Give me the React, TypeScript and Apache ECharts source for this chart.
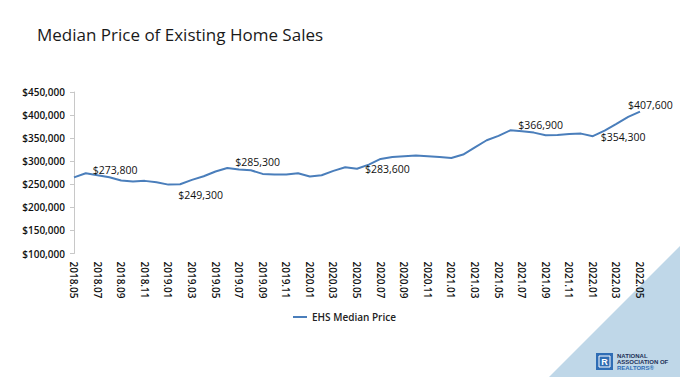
import React, { useEffect, useRef } from "react";
import * as echarts from "echarts";

const months: string[] = [
  "2018.05", "2018.06", "2018.07", "2018.08", "2018.09", "2018.10", "2018.11", "2018.12",
  "2019.01", "2019.02", "2019.03", "2019.04", "2019.05", "2019.06", "2019.07", "2019.08",
  "2019.09", "2019.10", "2019.11", "2019.12", "2020.01", "2020.02", "2020.03", "2020.04",
  "2020.05", "2020.06", "2020.07", "2020.08", "2020.09", "2020.10", "2020.11", "2020.12",
  "2021.01", "2021.02", "2021.03", "2021.04", "2021.05", "2021.06", "2021.07", "2021.08",
  "2021.09", "2021.10", "2021.11", "2021.12", "2022.01", "2022.02", "2022.03", "2022.04",
  "2022.05",
];

const medianPrice: number[] = [
  265000, 273800, 269500, 265300, 258100, 256000, 257400, 254500,
  249300, 250100, 259500, 267500, 277600, 285300, 281900, 280400,
  272500, 271000, 271000, 274000, 266700, 269600, 279000, 286900,
  283600, 292700, 305000, 309300, 310800, 312200, 310800, 309300,
  307100, 314400, 330200, 345400, 354800, 366900, 364900, 362000,
  356200, 356900, 359100, 359800, 354300, 366300, 380700, 395900,
  407600,
];

const labeledIndices: number[] = [1, 8, 13, 24, 37, 44, 48];

const yTicks = { min: 100000, max: 450000, interval: 50000 };

const labelPlacement: Record<number, { distance: number; offset: [number, number] }> = {
  1: { distance: 7, offset: [0, -3] },
  8: { distance: 10, offset: [0, 10] },
  13: { distance: 8, offset: [0, -6] },
  24: { distance: 8, offset: [0, 0] },
  37: { distance: 8, offset: [0, -5] },
  44: { distance: 8, offset: [0, 1] },
  48: { distance: 0, offset: [-12, -7] },
};

const money = (v: number) => "$" + v.toLocaleString("en-US");

export default function App() {
  const ref = useRef<HTMLDivElement>(null);

  useEffect(() => {
    if (!ref.current) return;
    const chart = echarts.init(ref.current, null, { renderer: "svg" });
    const font = "'Open Sans', sans-serif";

    const data = medianPrice.map((v, i) => {
      if (!labeledIndices.includes(i)) return v;
      const p = labelPlacement[i];
      return {
        value: v,
        label: {
          show: true,
          position: "right",
          distance: p.distance,
          offset: p.offset,
          formatter: () => money(v),
          fontFamily: font,
          fontSize: 10.5,
          color: "#111",
        },
      };
    });

    chart.setOption({
      animation: false,
      backgroundColor: "#ffffff",
      title: {
        text: "Median Price of Existing Home Sales",
        left: 32,
        top: 21,
        textStyle: { fontFamily: font, fontSize: 17, fontWeight: "normal", color: "#1a1a1a" },
      },
      grid: { left: 74, right: 40, top: 92, bottom: 123.5 },
      legend: {
        data: ["EHS Median Price"],
        left: 288,
        top: 307,
        icon: "rect",
        itemWidth: 14,
        itemHeight: 2,
        textStyle: { fontFamily: font, fontSize: 10, fontWeight: 600, color: "#222" },
      },
      xAxis: {
        type: "category",
        data: months,
        boundaryGap: false,
        axisLine: { show: false },
        axisTick: { show: false },
        axisLabel: {
          interval: 1,
          rotate: -90,
          margin: 8,
          fontFamily: font,
          fontSize: 10,
          fontWeight: 600,
          color: "#111",
        },
      },
      yAxis: {
        type: "value",
        min: yTicks.min,
        max: yTicks.max,
        interval: yTicks.interval,
        splitLine: { show: false },
        axisLine: { show: true, lineStyle: { color: "#c8c8c8", width: 1 } },
        axisTick: { show: true, length: 4, lineStyle: { color: "#c8c8c8" } },
        axisLabel: {
          formatter: (v: number) => money(v),
          margin: 9,
          fontFamily: font,
          fontSize: 10,
          fontWeight: 600,
          color: "#111",
        },
      },
      series: [
        {
          name: "EHS Median Price",
          type: "line",
          data,
          symbol: "circle",
          symbolSize: 0.01,
          showSymbol: true,
          lineStyle: { color: "#4a7ebb", width: 2 },
          itemStyle: { color: "#4a7ebb" },
          z: 3,
        },
      ],
      graphic: [
        {
          type: "polygon",
          z: -10,
          silent: true,
          shape: { points: [[680, 246], [680, 377], [549, 377]] },
          style: { fill: "#bfd7e8" },
        },
        {
          type: "rect",
          z: 10,
          shape: { x: 596, y: 353, width: 17, height: 17 },
          style: { fill: "#2f6db5" },
        },
        {
          type: "rect",
          z: 11,
          shape: { x: 599, y: 356, width: 11, height: 11 },
          style: { fill: "none", stroke: "#ffffff", lineWidth: 1 },
        },
        {
          type: "text",
          z: 12,
          x: 604.5,
          y: 361.5,
          style: {
            text: "R",
            fill: "#ffffff",
            font: "bold 9px 'Liberation Sans', sans-serif",
            align: "center",
            verticalAlign: "middle",
          },
        },
        {
          type: "text",
          z: 12,
          x: 617,
          y: 355.5,
          style: {
            text: "NATIONAL",
            fill: "#1d2f57",
            font: "bold 6px 'Liberation Sans', sans-serif",
            verticalAlign: "middle",
          },
        },
        {
          type: "text",
          z: 12,
          x: 617,
          y: 361.5,
          style: {
            text: "ASSOCIATION OF",
            fill: "#1d2f57",
            font: "bold 6px 'Liberation Sans', sans-serif",
            verticalAlign: "middle",
          },
        },
        {
          type: "text",
          z: 12,
          x: 617,
          y: 367.5,
          style: {
            text: "REALTORS®",
            fill: "#2f6db5",
            font: "bold 6px 'Liberation Sans', sans-serif",
            verticalAlign: "middle",
          },
        },
      ],
    });

    return () => chart.dispose();
  }, []);

  return (
    <div
      ref={ref}
      style={{ position: "fixed", left: 0, top: 0, width: 680, height: 377, background: "#fff" }}
    />
  );
}
